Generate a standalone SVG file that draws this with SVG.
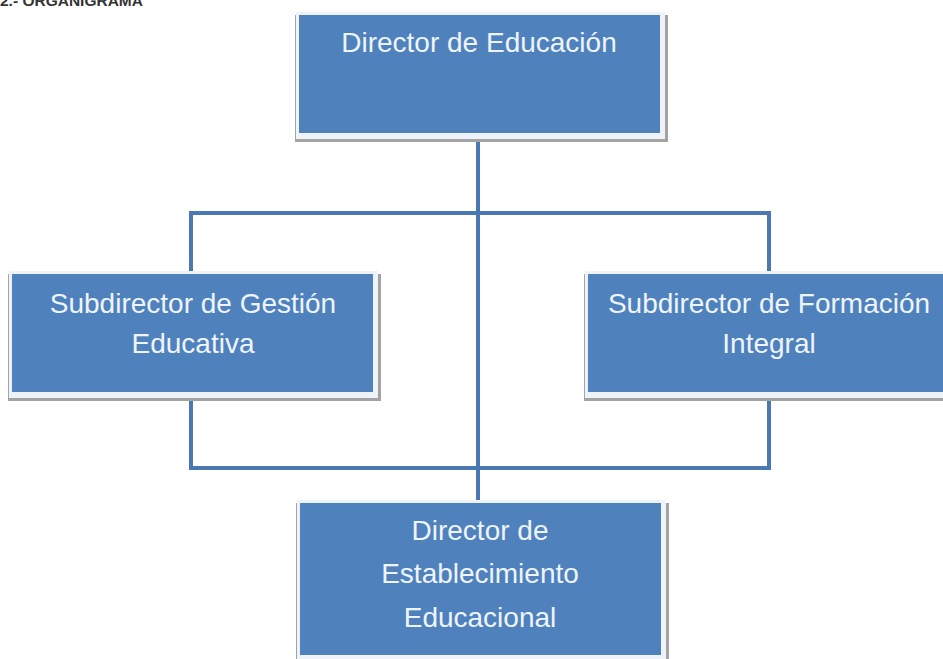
<svg xmlns="http://www.w3.org/2000/svg" width="943" height="659" viewBox="0 0 943 659">
<style>
.shadow{fill:#a3a3a3}
.rim{fill:#eef3fa}
.box{fill:#4f81bd}
.lbl{font-family:"Liberation Sans",Arial,sans-serif;font-size:28px;fill:#eef4fb;text-anchor:middle}
.conn{fill:none;stroke:#4a78b2;stroke-width:4;stroke-linejoin:miter}
.title{font-family:"Liberation Sans",Arial,sans-serif;font-size:15.5px;font-weight:bold;fill:#333}
</style>
<rect width="943" height="659" fill="#ffffff"/>
<text class="title" x="0" y="6">2.- ORGANIGRAMA</text>
<g id="connectors">
<path class="conn" d="M478 134 V503"/>
<path class="conn" d="M191 274 V213 H769 V274"/>
<path class="conn" d="M191 397 V468 H769 V397"/>
</g>
<g id="n-director-educacion">
<rect class="shadow" x="295" y="15" width="373" height="127"/>
<rect class="rim" x="296" y="12" width="369" height="127"/>
<rect class="box" x="299" y="15" width="361" height="118"/>
<text class="lbl" x="479" y="52">Director de Educación</text>
</g>
<g id="n-subdirector-gestion">
<rect class="shadow" x="8" y="274" width="373" height="127"/>
<rect class="rim" x="9" y="271" width="369" height="127"/>
<rect class="box" x="12" y="274" width="361" height="118"/>
<text class="lbl" x="193" y="313">Subdirector de Gestión</text>
<text class="lbl" x="193" y="353">Educativa</text>
</g>
<g id="n-subdirector-formacion">
<rect class="shadow" x="584" y="274" width="373" height="127"/>
<rect class="rim" x="585" y="271" width="369" height="127"/>
<rect class="box" x="588" y="274" width="363" height="118"/>
<text class="lbl" x="769" y="313">Subdirector de Formación</text>
<text class="lbl" x="769" y="353">Integral</text>
</g>
<g id="n-director-establecimiento">
<rect class="shadow" x="296" y="503" width="373" height="165"/>
<rect class="rim" x="297" y="500" width="369" height="165"/>
<rect class="box" x="300" y="503" width="361" height="152"/>
<text class="lbl" x="480" y="540">Director de</text>
<text class="lbl" x="480" y="583">Establecimiento</text>
<text class="lbl" x="480" y="627">Educacional</text>
</g>
</svg>
